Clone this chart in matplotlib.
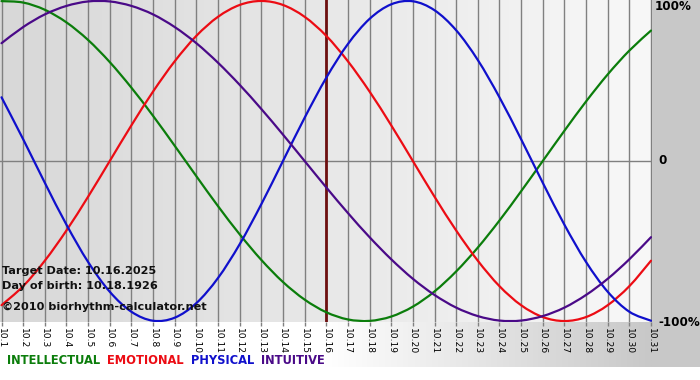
import numpy as np
import matplotlib
matplotlib.use("Agg")
import matplotlib.pyplot as plt
from matplotlib.colors import LinearSegmentedColormap
from matplotlib.path import Path
from matplotlib.patches import PathPatch

# days of October 2025
days = list(range(1, 32))
day_labels = ["10.%d" % d for d in days]
target_day = 16

# biorhythm values (-1 .. 1)
intellectual = [0.999, 0.990, 0.945, 0.866, 0.756, 0.618, 0.458, 0.282, 0.095, -0.095,
                -0.282, -0.458, -0.618, -0.756, -0.866, -0.945, -0.990, -0.999, -0.972, -0.910,
                -0.815, -0.690, -0.541, -0.372, -0.189, 0.0, 0.189, 0.372, 0.541, 0.690, 0.815]
emotional = [-0.901, -0.782, -0.623, -0.434, -0.223, 0.0, 0.223, 0.434, 0.623, 0.782,
             0.901, 0.975, 1.0, 0.975, 0.901, 0.782, 0.623, 0.434, 0.223, 0.0,
             -0.223, -0.434, -0.623, -0.782, -0.901, -0.975, -1.0, -0.975, -0.901, -0.782, -0.623]
physical = [0.398, 0.136, -0.136, -0.398, -0.631, -0.817, -0.942, -0.998, -0.979, -0.888,
            -0.731, -0.520, -0.270, 0.0, 0.270, 0.520, 0.731, 0.888, 0.979, 0.998,
            0.942, 0.817, 0.631, 0.398, 0.136, -0.136, -0.398, -0.631, -0.817, -0.942, -0.998]
intuitive = [0.736, 0.837, 0.916, 0.969, 0.997, 0.997, 0.969, 0.916, 0.837, 0.736,
             0.614, 0.476, 0.325, 0.165, 0.0, -0.165, -0.325, -0.476, -0.614, -0.736,
             -0.837, -0.916, -0.969, -0.997, -0.997, -0.969, -0.916, -0.837, -0.736, -0.614, -0.476]

series = [("INTELLECTUAL", intellectual, "#0b7d0b"),
          ("EMOTIONAL", emotional, "#ec0c14"),
          ("PHYSICAL", physical, "#1010cc"),
          ("INTUITIVE", intuitive, "#4a0a88")]


def smooth_path(xs, ys):
    # Catmull-Rom through the daily values, drawn as cubic Bezier segments
    p = np.column_stack([xs, ys]).astype(float)
    ext = np.vstack([p[0], p, p[-1]])
    verts = [p[0]]
    codes = [Path.MOVETO]
    for i in range(1, len(ext) - 2):
        p0, p1, p2, p3 = ext[i - 1], ext[i], ext[i + 1], ext[i + 2]
        verts += [p1 + (p2 - p0) / 6, p2 - (p3 - p1) / 6, p2]
        codes += [Path.CURVE4] * 3
    return Path(verts, codes)


W, H = 700, 380
fig = plt.figure(figsize=(W / 100, H / 100), dpi=100)
fig.patch.set_facecolor("#c8c8c8")

# background: white->gray strip under the plot, white band at the very bottom
bg = fig.add_axes([0, 0, 1, 1], zorder=0)
bg.set_xlim(0, W)
bg.set_ylim(H, 0)
bg.axis("off")
strip = LinearSegmentedColormap.from_list("strip", ["#ffffff", "#ffffff", "#c8c8c8"])
bg.imshow(np.linspace(0, 1, 256).reshape(1, -1), cmap=strip, aspect="auto",
          extent=(0, 652, 367, 322))
bg.fill_between([0, W], 367, H, color="white", lw=0)

plot_top, plot_bot = 0, 322
ax = fig.add_axes([0, (H - plot_bot) / H, 652 / W, (plot_bot - plot_top) / H], zorder=1)
ax.set_xlim(0.93, 31.046)
ax.set_ylim(-1.006, 1.006)

panel = LinearSegmentedColormap.from_list("panel", ["#d8d8d8", "#f8f8f8"])
ax.imshow(np.linspace(0, 1, 256).reshape(1, -1), cmap=panel, aspect="auto",
          extent=(0.93, 31.046, -1.006, 1.006), zorder=0)

for d in days:
    ax.axvline(d, color="#808080", lw=1, zorder=1)
ax.axhline(0, color="#808080", lw=1, zorder=1)
ax.axvline(target_day, color="#6e1010", lw=2, zorder=2)

for name, vals, col in series:
    ax.add_patch(PathPatch(smooth_path(days, vals), fill=False, edgecolor=col,
                           lw=1.6, zorder=3, capstyle="round"))

for s in ax.spines.values():
    s.set_visible(False)
ax.set_yticks([])
ax.set_xticks(days)
ax.set_xticklabels(day_labels, rotation=-90, fontsize=6.6, va="top", ha="center")
ax.tick_params(axis="x", length=3, width=1, color="#808080", pad=1)

txt = dict(fontsize=8.1, fontweight="bold", color="#111111", transform=ax.transAxes)
fy = lambda py: 1 - py / plot_bot
ax.text(2 / 652, fy(271), "Target Date: 10.16.2025", va="center", ha="left", zorder=4, **txt)
ax.text(2 / 652, fy(286), "Day of birth: 10.18.1926", va="center", ha="left", zorder=4, **txt)
ax.text(2 / 652, fy(307), "\u00a92010 biorhythm-calculator.net", va="center", ha="left", zorder=4, **txt)

# right side scale labels
fig.text(655 / W, 1 - 7 / H, "100%", fontsize=8.6, fontweight="bold", ha="left", va="center")
fig.text(658 / W, 1 - 161 / H, "0", fontsize=8.6, fontweight="bold", ha="left", va="center")
fig.text(658 / W, 1 - 322 / H, "-100%", fontsize=8.6, fontweight="bold", ha="left", va="center")

# legend words
x = 7
r = fig.canvas.get_renderer()
for name, vals, col in series:
    t = fig.text(x / W, 1 - 361 / H, name, fontsize=8.3, fontweight="bold", color=col,
                 ha="left", va="center")
    bb = t.get_window_extent(renderer=r)
    x += bb.width + 7

fig.savefig("out.png", dpi=100)
